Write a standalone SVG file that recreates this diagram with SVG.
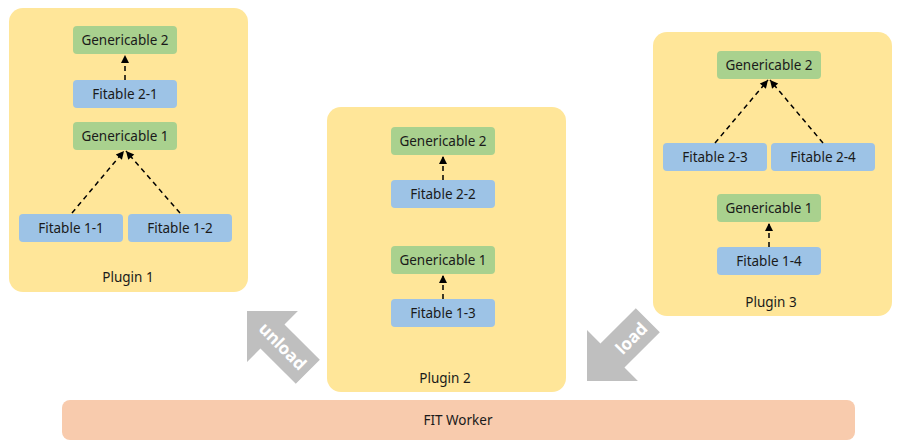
<svg xmlns="http://www.w3.org/2000/svg" width="900" height="447" viewBox="0 0 900 447">
<style>
.plugin{fill:#ffe699}
.gen{fill:#a9d18e}
.fit{fill:#9dc3e6}
.worker{fill:#f8cbad}
text{font-family:"Noto Sans","Open Sans",sans-serif;font-size:13.5px;fill:#1a1a1a;text-anchor:middle;dominant-baseline:central}
.big{fill:#bfbfbf}
.bl{font-size:17px;font-weight:bold;fill:#fff}
.c{fill:none;stroke:#000;stroke-width:1.5;stroke-dasharray:5 4}
</style>
<defs>
<marker id="ah" markerUnits="userSpaceOnUse" markerWidth="10" markerHeight="10" viewBox="0 0 10 10" refX="9" refY="5" orient="auto">
<path d="M1,1 L9,5 L1,9 Z" fill="#000"/>
</marker>
</defs>
<g id="worker"><rect class="worker" x="62" y="400" width="793" height="40" rx="8"/><text x="458" y="420">FIT Worker</text></g>
<g id="plugin1"><rect class="plugin" x="9" y="8" width="239" height="284" rx="14"/><text x="128" y="277">Plugin 1</text></g>
<g id="plugin2"><rect class="plugin" x="327" y="107" width="239" height="285" rx="14"/><text x="445" y="378">Plugin 2</text></g>
<g id="plugin3"><rect class="plugin" x="653" y="32" width="239" height="284" rx="14"/><text x="771" y="302">Plugin 3</text></g>
<g id="unload"><path class="big" transform="translate(247,311) rotate(-45)" d="M0,0 L36,36 L17,36 L17,86 L-17,86 L-17,36 L-36,36 Z"/><text class="bl" transform="translate(283,346) rotate(45)">unload</text></g>
<g id="load"><path class="big" transform="translate(587,381) rotate(-135)" d="M0,0 L36,36 L17,36 L17,86 L-17,86 L-17,36 L-36,36 Z"/><text class="bl" transform="translate(631,338) rotate(-45)">load</text></g>
<g id="p1-gen2"><rect class="gen" x="73" y="26" width="104" height="28" rx="4"/><text x="125" y="40">Genericable 2</text></g>
<g id="p1-fit21"><rect class="fit" x="73" y="80" width="104" height="28" rx="4"/><text x="125" y="94">Fitable 2-1</text></g>
<g id="p1-gen1"><rect class="gen" x="73" y="122" width="104" height="28" rx="4"/><text x="125" y="136">Genericable 1</text></g>
<g id="p1-fit11"><rect class="fit" x="19" y="214" width="104" height="28" rx="4"/><text x="71" y="228">Fitable 1-1</text></g>
<g id="p1-fit12"><rect class="fit" x="128" y="214" width="104" height="28" rx="4"/><text x="180" y="228">Fitable 1-2</text></g>
<g id="p2-gen2"><rect class="gen" x="391" y="127" width="104" height="28" rx="4"/><text x="443" y="141">Genericable 2</text></g>
<g id="p2-fit22"><rect class="fit" x="391" y="180" width="104" height="28" rx="4"/><text x="443" y="194">Fitable 2-2</text></g>
<g id="p2-gen1"><rect class="gen" x="391" y="246" width="104" height="28" rx="4"/><text x="443" y="260">Genericable 1</text></g>
<g id="p2-fit13"><rect class="fit" x="391" y="299" width="104" height="28" rx="4"/><text x="443" y="313">Fitable 1-3</text></g>
<g id="p3-gen2"><rect class="gen" x="717" y="51" width="104" height="28" rx="4"/><text x="769" y="65">Genericable 2</text></g>
<g id="p3-fit23"><rect class="fit" x="663" y="143" width="104" height="28" rx="4"/><text x="715" y="157">Fitable 2-3</text></g>
<g id="p3-fit24"><rect class="fit" x="771" y="143" width="104" height="28" rx="4"/><text x="823" y="157">Fitable 2-4</text></g>
<g id="p3-gen1"><rect class="gen" x="717" y="194" width="104" height="28" rx="4"/><text x="769" y="208">Genericable 1</text></g>
<g id="p3-fit14"><rect class="fit" x="717" y="247" width="104" height="28" rx="4"/><text x="769" y="261">Fitable 1-4</text></g>
<g id="connectors">
<path class="c" d="M125,80 L125,55" marker-end="url(#ah)"/>
<path class="c" d="M72,213 L124,151" marker-end="url(#ah)"/>
<path class="c" d="M180,213 L126,151" marker-end="url(#ah)"/>
<path class="c" d="M443,180 L443,156" marker-end="url(#ah)"/>
<path class="c" d="M443,299 L443,275" marker-end="url(#ah)"/>
<path class="c" d="M715,143 L768,80" marker-end="url(#ah)"/>
<path class="c" d="M823,143 L770,80" marker-end="url(#ah)"/>
<path class="c" d="M769,247 L769,223" marker-end="url(#ah)"/>
</g>
</svg>
